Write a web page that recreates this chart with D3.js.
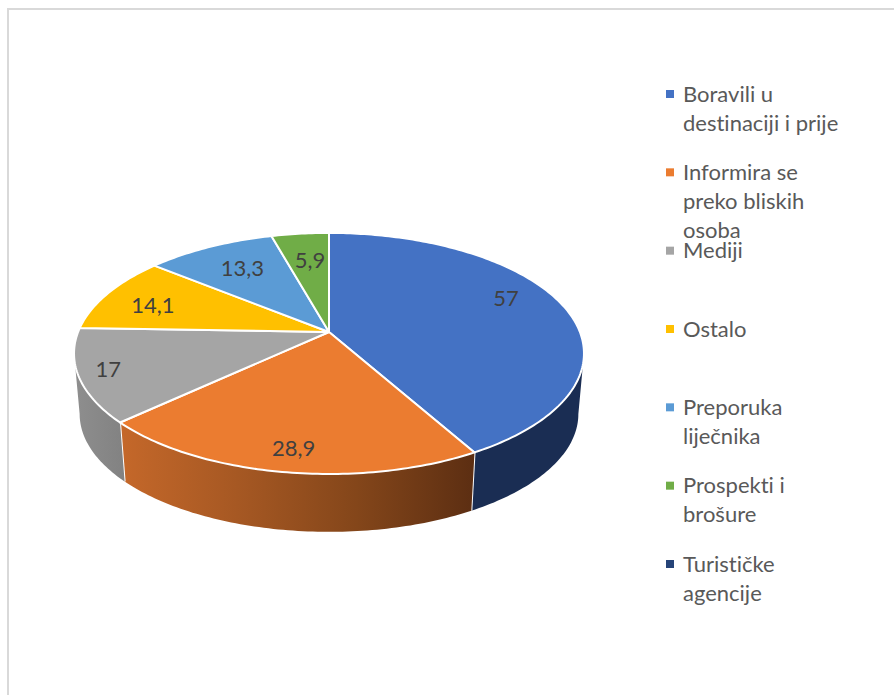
<!DOCTYPE html>
<html lang="hr">
<head>
    <meta charset="UTF-8">
    <title>Pie</title>
    <script src="https://cdnjs.cloudflare.com/ajax/libs/d3/7.8.5/d3.min.js"></script>
    <style>
        html, body { margin: 0; padding: 0; background: #fff; }
        svg { display: block; font-family: Lato, "Open Sans", sans-serif; font-variant-ligatures: none; }
    </style>
</head>
<body>
<svg width="894" height="695"></svg>

<script>
    const categories = ["Boravili u destinaciji i prije", "Informira se preko bliskih osoba", "Mediji", "Ostalo", "Preporuka liječnika", "Prospekti i brošure", "Turističke agencije"];
    const legendLines = [["Boravili u", "destinaciji i prije"], ["Informira se", "preko bliskih", "osoba"], ["Mediji"], ["Ostalo"], ["Preporuka", "liječnika"], ["Prospekti i", "brošure"], ["Turističke", "agencije"]];
    const values = [57, 28.9, 17, 14.1, 13.3, 5.9, 0];
    const valueLabels = ["57", "28,9", "17", "14,1", "13,3", "5,9", ""];
    const colors = ["#4472c4", "#eb7c30", "#a5a5a5", "#ffc000", "#5b9bd5", "#70ad47", "#264478"];

    // where each label sits inside its slice, as a share of the radius + a turn in degrees
    const labelRadius = [0.805, 0.853, 0.886, 0.77, 0.716, 0.698, 0];
    const labelTurn = [-7.8, -0.8, 0.5, -2.5, 0.9, 0.8, 0];

    const svg = d3.select("svg");
    const cx = 329, cy = 332;
    const tilt = 0.178, radiusX = 250.9, radiusY = 116.7;
    const baseScale = 0.978, depth = 61;

    // disk coordinates -> screen, the far edge of the pie comes out flatter than the near one
    function project(angle, r = 1, scale = 1, drop = 0) {
        const u = r * Math.sin(angle), v = -r * Math.cos(angle);
        const w = 1 - tilt * v;
        return [cx + scale * radiusX * u / w, cy + drop + scale * radiusY * v / w];
    }

    function arcAngles(a0, a1) {
        const n = Math.max(2, Math.ceil((a1 - a0) * 60));
        return d3.range(n + 1).map(i => a0 + (a1 - a0) * i / n);
    }

    const slices = d3.pie().sort(null).value(d => d)(values);
    const color = d3.scaleOrdinal().domain(categories).range(colors);
    const line = d3.line();

    // side wall shading
    const defs = svg.append("defs");
    function gradient(id, x1, x2, stops) {
        const g = defs.append("linearGradient").attr("id", id)
            .attr("gradientUnits", "userSpaceOnUse")
            .attr("x1", x1).attr("x2", x2).attr("y1", 0).attr("y2", 0);
        stops.forEach((c, i) => g.append("stop").attr("offset", i / (stops.length - 1)).attr("stop-color", c));
    }
    gradient("wall0", 475, 584, ["#1a2d53", "#1a2d53"]);
    gradient("wall1", 119, 475, ["#c5682a", "#a65823", "#84461a", "#5c2e12"]);
    gradient("wall2", 75, 124, ["#8e8e8e", "#828282"]);

    const visibleFrom = Math.acos(-tilt), visibleTo = 2 * Math.PI - visibleFrom;

    const walls = svg.append("g");
    slices.forEach((s, i) => {
        const a0 = Math.max(s.startAngle, visibleFrom), a1 = Math.min(s.endAngle, visibleTo);
        if (a1 <= a0) return;
        const angles = arcAngles(a0, a1);
        const top = angles.map(a => project(a));
        const bottom = angles.map(a => project(a, 1, baseScale, depth)).reverse();
        walls.append("path")
            .attr("d", line(top.concat(bottom)) + "Z")
            .attr("fill", `url(#wall${i})`);
        // white seam where two walls meet
        if (s.endAngle < visibleTo) {
            walls.append("path")
                .attr("d", line([project(s.endAngle), project(s.endAngle, 1, baseScale, depth)]))
                .attr("stroke", "#fff").attr("stroke-width", 2).attr("fill", "none");
        }
    });

    const tops = svg.append("g");
    slices.filter(s => s.value > 0).forEach(s => {
        const rim = arcAngles(s.startAngle, s.endAngle).map(a => project(a));
        tops.append("path")
            .attr("d", line([[cx, cy]].concat(rim)) + "Z")
            .attr("fill", color(categories[s.index]))
            .attr("stroke", "#fff").attr("stroke-width", 2).attr("stroke-linejoin", "round");
    });

    svg.append("g").selectAll("text")
        .data(slices.filter(s => s.value > 0))
        .enter().append("text")
        .attr("transform", s => {
            const mid = (s.startAngle + s.endAngle) / 2 + labelTurn[s.index] * Math.PI / 180;
            return `translate(${project(mid, labelRadius[s.index])})`;
        })
        .attr("text-anchor", "middle").attr("dy", "0.35em")
        .attr("font-size", 22).attr("fill", "#404040")
        .text(s => valueLabels[s.index]);

    // legend
    const legendY = d3.scalePoint().domain(categories).range([94, 564]);
    const legend = svg.append("g").selectAll("g")
        .data(categories)
        .enter().append("g")
        .attr("transform", d => `translate(666,${legendY(d)})`);
    legend.append("rect")
        .attr("y", -4).attr("width", 8).attr("height", 8)
        .attr("fill", d => color(d));
    legend.each(function (d, i) {
        d3.select(this).selectAll("text")
            .data(legendLines[i])
            .enter().append("text")
            .attr("x", 17).attr("y", (t, j) => j * 29).attr("dy", "0.35em")
            .attr("font-size", 22).attr("fill", "#595959")
            .text(t => t);
    });

    // frame of the chart area, only top and left edges are in the shot
    svg.append("path")
        .attr("d", line([[8, 695], [8, 9], [894, 9]]))
        .attr("fill", "none").attr("stroke", "#d9d9d9").attr("stroke-width", 2);
</script>
</body>
</html>
